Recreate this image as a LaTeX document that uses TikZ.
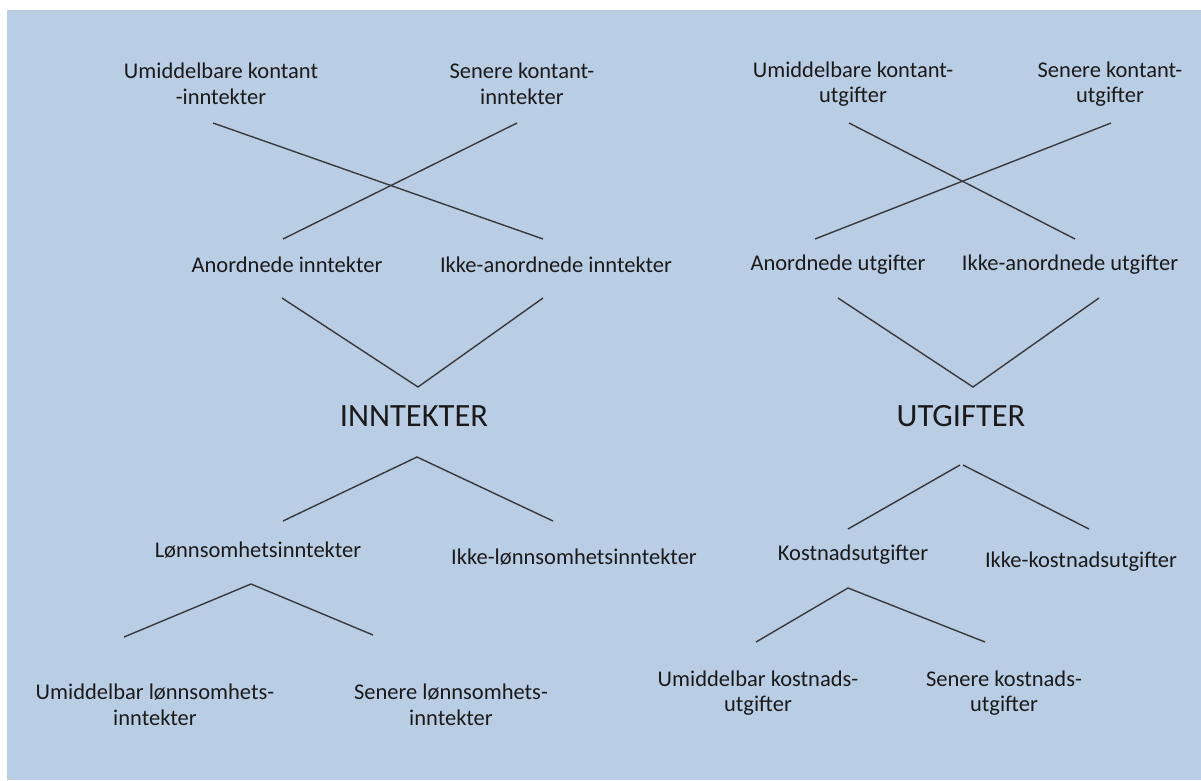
\documentclass[tikz,border=0pt]{standalone}
\usepackage{fontspec}
\setmainfont{Carlito}
\definecolor{bgblue}{HTML}{B9CDE5}
\definecolor{inkline}{HTML}{3A3A3A}
\definecolor{inktext}{HTML}{1A1A1A}
\begin{document}
\begin{tikzpicture}[x=1pt,y=-1pt,
  lbl/.style={inner sep=0pt,align=center,text=inktext,
    font=\fontsize{22.5}{25.5}\selectfont},
  head/.style={inner sep=0pt,text=inktext,font=\fontsize{32.5}{38}\selectfont},
  link/.style={draw=inkline,line width=1.4pt}]
\useasboundingbox (0,0) rectangle (1201,780);
\fill[bgblue] (7,10) rectangle (1201,780);

% ---------- INNTEKTER ----------
\node[lbl] (ukI) at (221,84) {Umiddelbare kontant\\-inntekter};
\node[lbl] (skI) at (522,84) {Senere kontant-\\inntekter};
\node[lbl] (anI) at (287,265) {Anordnede inntekter};
\node[lbl] (ikI) at (556,265) {Ikke-anordnede inntekter};
\node[head] (inn) at (414,416) {INNTEKTER};
\node[lbl] (lonI) at (258,550) {Lønnsomhetsinntekter};
\node[lbl] (iklI) at (574,557) {Ikke-lønnsomhetsinntekter};
\node[lbl] (umlI) at (155,705) {Umiddelbar lønnsomhets-\\inntekter};
\node[lbl] (selI) at (451,705) {Senere lønnsomhets-\\inntekter};

\coordinate (ukIa) at (213,123);
\coordinate (skIa) at (517,123);
\coordinate (anIt) at (283,239);
\coordinate (ikIt) at (543,239);
\coordinate (anIb) at (282,298);
\coordinate (ikIb) at (543,298);
\coordinate (innT) at (418,387);
\coordinate (innB) at (417,457);
\coordinate (lonIt) at (283,521);
\coordinate (iklIt) at (553,521);
\coordinate (lonIb) at (251,584);
\coordinate (umlIt) at (124,637);
\coordinate (selIt) at (373,635);

\draw[link] (ukIa) -- (ikIt);
\draw[link] (skIa) -- (anIt);
\draw[link] (anIb) -- (innT) -- (ikIb);
\draw[link] (lonIt) -- (innB) -- (iklIt);
\draw[link] (umlIt) -- (lonIb) -- (selIt);

% ---------- UTGIFTER ----------
\node[lbl] (ukU) at (853,84) {Umiddelbare kontant-\\utgifter};
\node[lbl] (skU) at (1110,84) {Senere kontant-\\utgifter};
\node[lbl] (anU) at (838,265) {Anordnede utgifter};
\node[lbl] (ikU) at (1070,265) {Ikke-anordnede utgifter};
\node[head] (utg) at (961,416) {UTGIFTER};
\node[lbl] (kosU) at (853,555) {Kostnadsutgifter};
\node[lbl] (ikkU) at (1081,562) {Ikke-kostnadsutgifter};
\node[lbl] (umkU) at (758,693) {Umiddelbar kostnads-\\utgifter};
\node[lbl] (sekU) at (1004,693) {Senere kostnads-\\utgifter};

\coordinate (ukUa) at (849,123);
\coordinate (skUa) at (1111,123);
\coordinate (anUt) at (815,239);
\coordinate (ikUt) at (1075,239);
\coordinate (anUb) at (838,298);
\coordinate (ikUb) at (1099,298);
\coordinate (utgT) at (973,387);
\coordinate (utgBl) at (960,465);
\coordinate (utgBr) at (963,465);
\coordinate (kosUt) at (848,529);
\coordinate (ikkUt) at (1089,529);
\coordinate (kosUb) at (848,588);
\coordinate (umkUt) at (756,642);
\coordinate (sekUt) at (985,642);

\draw[link] (ukUa) -- (ikUt);
\draw[link] (skUa) -- (anUt);
\draw[link] (anUb) -- (utgT) -- (ikUb);
\draw[link] (kosUt) -- (utgBl);
\draw[link] (utgBr) -- (ikkUt);
\draw[link] (umkUt) -- (kosUb) -- (sekUt);
\end{tikzpicture}
\end{document}
